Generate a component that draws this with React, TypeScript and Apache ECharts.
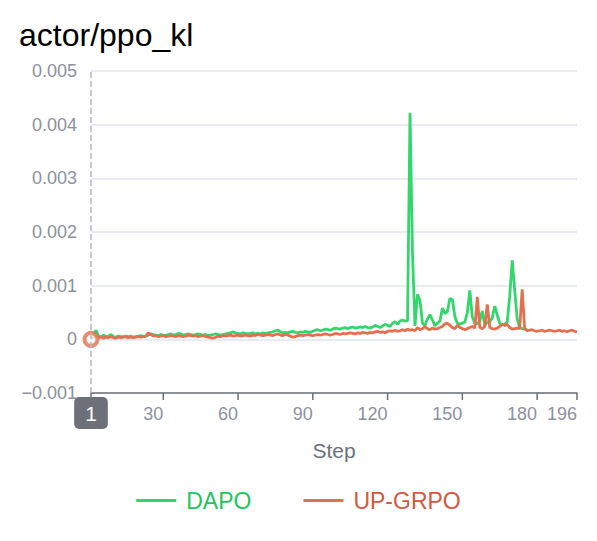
import React, { useEffect, useRef } from "react";
import * as echarts from "echarts";

const titleText = "actor/ppo_kl";
const seriesNames = ["DAPO", "UP-GRPO"];
const xTickValues = [1, 30, 60, 90, 120, 150, 180, 196];
const xLabelValues = [30, 60, 90, 120, 150, 180, 196];
const yTickMin = -0.001;
const yTickMax = 0.005;
const yTickStep = 0.001;

const dapoKl = [
  0.00003, 0.00008, 0.00017, 0.00006, 0.00004, 0.00008, 0.00005, 0.00006, 0.00009, 0.00005,
  0.00004, 0.00006, 0.00005, 0.00004, 0.00006, 0.00005, 0.00006, 0.00004, 0.00005, 0.00006,
  0.00007, 0.00005, 0.00006, 0.00008, 0.0001, 0.00009, 0.00008, 0.00007, 0.00009, 0.00008,
  0.00007, 0.00009, 0.0001, 0.00008, 0.00009, 0.00011, 0.0001, 0.00008, 0.00009, 0.0001,
  0.00009, 0.00008, 0.00009, 0.0001, 0.00009, 0.00008, 0.00009, 0.00007, 0.00008, 0.00009,
  0.0001, 0.00009, 0.00008, 0.00009, 0.0001, 0.00011, 0.00012, 0.00014, 0.00012, 0.00011,
  0.0001, 0.00012, 0.00011, 0.0001, 0.00011, 0.00012, 0.0001, 0.00011, 0.0001, 0.00012,
  0.00011, 0.00012, 0.00013, 0.00014, 0.00016, 0.00017, 0.00014, 0.00012, 0.00013, 0.00012,
  0.00014, 0.00015, 0.00013, 0.00012, 0.00014, 0.00013, 0.00015, 0.00014, 0.00013, 0.00015,
  0.00017, 0.00018, 0.00016, 0.00017, 0.00019, 0.00018, 0.00017, 0.00019, 0.00021, 0.0002,
  0.00019, 0.00021, 0.00022, 0.0002, 0.00022, 0.00023, 0.00021, 0.00022, 0.00023, 0.00022,
  0.00024, 0.00022, 0.00021, 0.00023, 0.00026, 0.00024, 0.00022, 0.00025, 0.00028, 0.00026,
  0.00024, 0.0003, 0.00033, 0.00028, 0.00034, 0.00036, 0.00034, 0.00035, 0.00422, 0.0016,
  0.00025, 0.00084, 0.00072, 0.0003, 0.00026, 0.00038, 0.00046, 0.00036, 0.00025, 0.0003,
  0.00034, 0.00058, 0.00048, 0.00052, 0.00076, 0.00074, 0.00042, 0.0003, 0.00028, 0.0003,
  0.00032, 0.0005, 0.00091, 0.00042, 0.0003, 0.00029, 0.00034, 0.00053, 0.00026, 0.00032,
  0.00033, 0.0004, 0.00062, 0.00045, 0.0003, 0.00028, 0.00028, 0.00032, 0.0008, 0.00147,
  0.00092, 0.00038, 0.00022, 0.0002, 0.00019, 0.00018,
];

const upGrpoKl = [
  0.0, 0.00004, 0.00006, 0.00003, 0.00005, 0.00002, 0.00004, 0.00003, 0.00005, 0.00003,
  0.00002, 0.00004, 0.00003, 0.00005, 0.00004, 0.00003, 0.00004, 0.00003, 0.00004, 0.00005,
  0.00004, 0.00005, 0.00006, 0.00012, 0.00009, 0.00006, 0.00007, 0.00005, 0.00006, 0.00007,
  0.00005, 0.00006, 0.00007, 0.00006, 0.00005, 0.00007, 0.00006, 0.00005, 0.00006, 0.00008,
  0.00007, 0.00006, 0.00007, 0.00005, 0.00006, 0.00007, 0.00005, 0.00004, 0.00003, 0.00002,
  0.00004, 0.00006, 0.00005, 0.00007, 0.00006, 0.00007, 0.00008, 0.00006, 0.00007, 0.00008,
  0.00006, 0.00007, 0.00008, 0.00007, 0.00006, 0.00008, 0.00007, 0.00009, 0.00008, 0.00007,
  0.00008, 0.00009, 0.00008, 0.00007, 0.00009, 0.0001, 0.00008, 0.00007, 0.00009, 0.00008,
  0.00006, 0.00004, 0.00005, 0.00007, 0.00008, 0.00007, 0.00008, 0.00009, 0.00008, 0.00007,
  0.00008, 0.00009, 0.00008, 0.00009, 0.0001, 0.00009, 0.00008, 0.00009, 0.00011, 0.0001,
  0.00009, 0.00011, 0.0001, 0.00011, 0.00012, 0.00011, 0.0001, 0.00012, 0.00011, 0.00013,
  0.00012, 0.00011, 0.00013, 0.00012, 0.00014, 0.00015, 0.00013, 0.00014, 0.00012, 0.00015,
  0.00016, 0.00015, 0.00017, 0.00015, 0.00016, 0.00018, 0.00016, 0.00019, 0.00017, 0.00018,
  0.00016, 0.00022, 0.00018, 0.0002, 0.00024, 0.0002, 0.00018, 0.00021, 0.00019, 0.0002,
  0.00022, 0.00024, 0.00029, 0.0003, 0.00026, 0.00022, 0.0002, 0.00026, 0.00022, 0.0002,
  0.00018, 0.0002, 0.00022, 0.00024, 0.00021, 0.00079, 0.00022, 0.0002, 0.00024, 0.00065,
  0.00022, 0.0002, 0.00019, 0.00021, 0.00024, 0.00028, 0.00026, 0.00028, 0.00022, 0.00019,
  0.0002, 0.00021, 0.0002, 0.00093, 0.0002, 0.00016, 0.00017, 0.00018, 0.00016, 0.00015,
  0.00016, 0.00017, 0.00015, 0.00016, 0.00017, 0.00016, 0.00015, 0.00016, 0.00017, 0.00015,
  0.00016, 0.00014, 0.00016, 0.00017, 0.00015, 0.00014,
];

const hoverStep = 1;

const GREEN = "#33d66c";
const ORANGE = "#e4704f";
const GREEN_TEXT = "#22c55e";
const ORANGE_TEXT = "#d4573f";
const AXIS_COLOR = "#6e7079";
const FONT = "'Liberation Sans', Arial, Helvetica, sans-serif";

export default function App() {
  const ref = useRef<HTMLDivElement>(null);
  useEffect(() => {
    if (!ref.current) return;
    const chart = echarts.init(ref.current, undefined, { renderer: "svg" });
    const dapoData = dapoKl.map((v, i) => [i + 1, v]);
    const upData = upGrpoKl.map((v, i) => [i + 1, v]);
    const hoverVal = upGrpoKl[hoverStep - 1];
    chart.setOption({
      animation: false,
      textStyle: { fontFamily: FONT },
      title: {
        text: titleText,
        left: 14,
        top: 14,
        textStyle: { fontSize: 32, fontWeight: "normal", color: "#000", fontFamily: FONT },
      },
      grid: { left: 91, right: 20, top: 71, bottom: 148, containLabel: false },
      legend: {
        data: [
          { name: seriesNames[0], textStyle: { color: GREEN_TEXT } },
          { name: seriesNames[1], textStyle: { color: ORANGE_TEXT } },
        ],
        left: "center",
        top: 484,
        icon: "rect",
        itemWidth: 40,
        itemHeight: 3,
        itemGap: 52,
        textStyle: { fontSize: 23, fontFamily: FONT, padding: [0, 0, 0, 5] },
      },
      xAxis: {
        type: "value",
        min: 1,
        max: 196,
        name: "Step",
        nameLocation: "middle",
        nameGap: 47,
        nameTextStyle: { fontSize: 21, color: "#6b7080", fontFamily: FONT },
        splitLine: { show: false },
        axisLine: { show: true, onZero: false, lineStyle: { color: AXIS_COLOR, width: 1.5 } },
        axisTick: { show: false },
        axisLabel: {
          customValues: xLabelValues,
          align: "right",
          margin: 12,
          fontSize: 18,
          color: "#8c919e",
          fontFamily: FONT,
        },
        axisPointer: {
          show: true,
          type: "line",
          value: hoverStep,
          status: "show",
          snap: false,
          triggerTooltip: false,
          lineStyle: { color: "#b4b8c4", type: "dashed", width: 1.5 },
          label: {
            show: true,
            formatter: (p: any) => String(Math.round(p.value)),
            backgroundColor: AXIS_COLOR,
            color: "#fff",
            fontSize: 21,
            fontFamily: FONT,
            padding: [6, 11, 5, 11],
            borderRadius: 5,
            margin: 4,
          },
        },
      },
      yAxis: {
        type: "value",
        min: yTickMin,
        max: yTickMax,
        interval: yTickStep,
        axisLine: { show: false },
        axisTick: { show: false },
        splitLine: { lineStyle: { color: "#e1e4f0", width: 1.5 } },
        axisLabel: {
          margin: 14,
          fontSize: 18,
          color: "#8c919e",
          fontFamily: FONT,
          formatter: (v: number) => {
            const r = parseFloat(v.toFixed(3));
            if (r === 0) return "0";
            return r < 0 ? "\u2212" + String(Math.abs(r)) : String(r);
          },
        },
      },
      series: [
        {
          name: seriesNames[0],
          type: "line",
          data: dapoData,
          showSymbol: false,
          color: GREEN,
          lineStyle: { width: 2.8, color: GREEN },
          z: 2,
        },
        {
          name: seriesNames[1],
          type: "line",
          data: upData,
          showSymbol: false,
          color: ORANGE,
          lineStyle: { width: 2.8, color: ORANGE },
          z: 3,
        },
        {
          name: "hover",
          type: "scatter",
          data: [[hoverStep, hoverVal]],
          symbol: "circle",
          symbolSize: 13,
          silent: true,
          itemStyle: { color: "#fff", borderColor: ORANGE, borderWidth: 4 },
          z: 5,
        },
      ],
    });
    const yBase = chart.convertToPixel({ yAxisIndex: 0 }, yTickMin) as number;
    const ticks = xTickValues.map((v) => {
      const x = chart.convertToPixel({ xAxisIndex: 0 }, v) as number;
      return {
        type: "line",
        silent: true,
        z: 1,
        shape: { x1: x, y1: yBase, x2: x, y2: yBase + 7 },
        style: { stroke: AXIS_COLOR, lineWidth: 1.5 },
      };
    });
    chart.setOption({ graphic: ticks });
    return () => chart.dispose();
  }, []);
  return <div ref={ref} style={{ width: 597, height: 541, position: "absolute", left: 0, top: 0 }} />;
}
